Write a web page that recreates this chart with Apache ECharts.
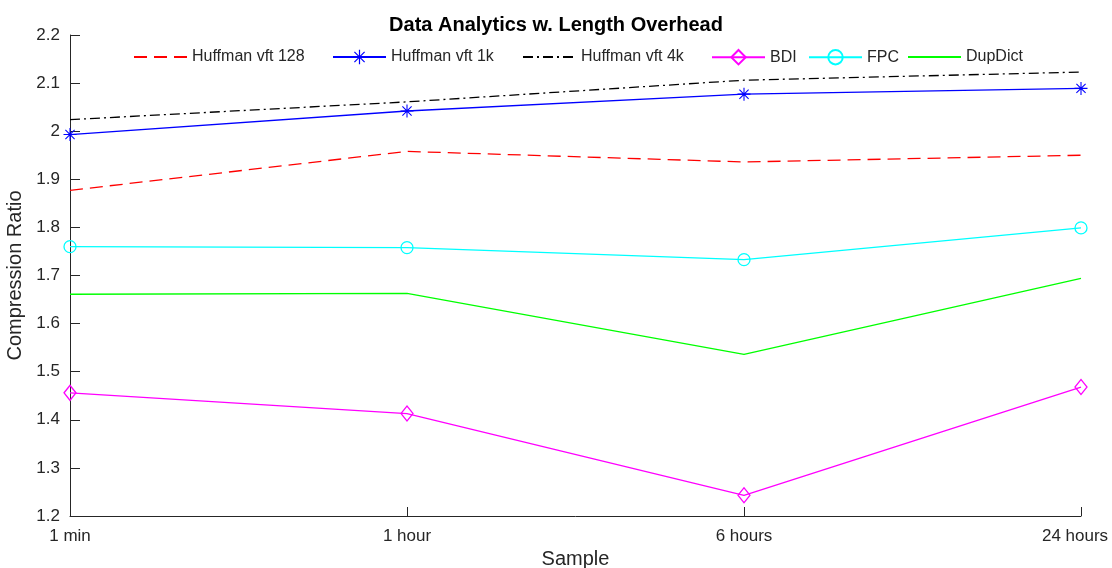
<!DOCTYPE html>
<html>
<head>
<meta charset="utf-8">
<title>Data Analytics w. Length Overhead</title>
<script src="https://cdn.jsdelivr.net/npm/echarts@6/dist/echarts.min.js"></script>
<style>
  html, body { margin: 0; padding: 0; background: #fff; }
  #chart { width: 1112px; height: 568px; }
</style>
</head>
<body>
<div id="chart"></div>
<script>
// Sample windows on the x axis
const samples = ['1 min', '1 hour', '6 hours', '24 hours'];

// Compression ratio per scheme
const huffman128 = [1.877, 1.958, 1.936, 1.950];
const huffman1k  = [1.993, 2.042, 2.077, 2.089];
const huffman4k  = [2.024, 2.061, 2.106, 2.123];
const bdi        = [1.456, 1.413, 1.243, 1.468];
const fpc        = [1.760, 1.758, 1.733, 1.799];
const dupDict    = [1.661, 1.663, 1.536, 1.694];

// Legend entries in display order
const legendNames = ['Huffman vft 128', 'Huffman vft 1k', 'Huffman vft 4k', 'BDI', 'FPC', 'DupDict'];

// Asterisk marker (plus + cross) built from thin filled bars
const asterisk = 'path://M5.5 0 L6.5 0 L6.5 12 L5.5 12 Z ' +
  'M0 5.5 L12 5.5 L12 6.5 L0 6.5 Z ' +
  'M1.4 2.1 L2.1 1.4 L10.6 9.9 L9.9 10.6 Z ' +
  'M9.9 1.4 L10.6 2.1 L2.1 10.6 L1.4 9.9 Z';

const FONT = '"Liberation Sans", Arial, Helvetica, sans-serif';
const INK = '#262626';
const LW = 1.3;

function lineSeries(name, data, color, extra) {
  return Object.assign({
    name: name,
    type: 'line',
    data: data,
    color: color,
    symbol: 'none',
    lineStyle: { color: color, width: LW, type: 'solid' },
    emphasis: { disabled: true },
    animation: false,
    z: 3
  }, extra || {});
}

// One legend block per entry so each sits at its own spot in the row
const legendLeft = [133, 332, 522, 711, 808, 907];
const noMarker = { 'Huffman vft 128': true, 'Huffman vft 4k': true, 'DupDict': true };
const legends = legendNames.map((name, i) => ({
  left: legendLeft[i],
  top: 49,
  padding: 0,
  itemWidth: 53,
  itemHeight: 18,
  selectedMode: false,
  textStyle: { fontFamily: FONT, fontSize: 16, color: INK },
  data: [noMarker[name] ? { name: name, itemStyle: { opacity: 0 } } : { name: name }]
}));

const chart = echarts.init(document.getElementById('chart'), null, { renderer: 'canvas' });

chart.setOption({
  backgroundColor: '#fff',
  animation: false,
  title: {
    text: 'Data Analytics w. Length Overhead',
    left: 'center',
    top: 10,
    textStyle: { fontFamily: FONT, fontSize: 20, fontWeight: 'bold', color: '#000' }
  },
  legend: legends,
  grid: { left: 70, right: 31, top: 35, bottom: 52, containLabel: false, outerBoundsMode: 'none' },
  xAxis: {
    type: 'category',
    data: samples,
    boundaryGap: false,
    name: 'Sample',
    nameLocation: 'middle',
    nameGap: 30,
    nameTextStyle: { fontFamily: FONT, fontSize: 20, color: INK },
    axisLine: { lineStyle: { color: INK, width: 1 } },
    axisTick: { inside: true, length: 9, lineStyle: { color: INK, width: 1 } },
    axisLabel: {
      fontFamily: FONT, fontSize: 17, color: INK, margin: 12,
      // the last label is nudged inward so it stays on the canvas
      formatter: (v, i) => i === samples.length - 1 ? '{last|' + v + '}' : v,
      rich: { last: { fontFamily: FONT, fontSize: 17, color: INK, padding: [0, 12, 0, 0] } }
    },
    splitLine: { show: false }
  },
  yAxis: {
    type: 'value',
    min: 1.2,
    max: 2.2,
    interval: 0.1,
    name: 'Compression Ratio',
    nameLocation: 'middle',
    nameGap: 39,
    nameTextStyle: { fontFamily: FONT, fontSize: 20, color: INK },
    axisLine: { show: true, lineStyle: { color: INK, width: 1 } },
    axisTick: { show: true, inside: true, length: 10, lineStyle: { color: INK, width: 1 } },
    axisLabel: {
      fontFamily: FONT, fontSize: 17, color: INK, margin: 10,
      formatter: v => String(Math.round(v * 10) / 10)
    },
    splitLine: { show: false }
  },
  series: [
    lineSeries('Huffman vft 128', huffman128, '#ff0000', {
      lineStyle: { color: '#ff0000', width: LW, type: [13, 7] }
    }),
    lineSeries('Huffman vft 1k', huffman1k, '#0000ff', {
      symbol: asterisk,
      symbolSize: 13,
      showSymbol: true,
      itemStyle: { color: '#0000ff' }
    }),
    lineSeries('Huffman vft 4k', huffman4k, '#000000', {
      lineStyle: { color: '#000000', width: LW, type: [10, 4, 2, 4] }
    }),
    lineSeries('BDI', bdi, '#ff00ff', {
      symbol: 'diamond',
      symbolSize: [12, 15],
      showSymbol: true,
      itemStyle: { color: 'rgba(255,255,255,0)', borderColor: '#ff00ff', borderWidth: 1.3 }
    }),
    lineSeries('FPC', fpc, '#00ffff', {
      symbol: 'circle',
      symbolSize: 12,
      showSymbol: true,
      itemStyle: { color: 'rgba(255,255,255,0)', borderColor: '#00ffff', borderWidth: 1.3 }
    }),
    lineSeries('DupDict', dupDict, '#00ff00')
  ]
});
</script>
</body>
</html>
